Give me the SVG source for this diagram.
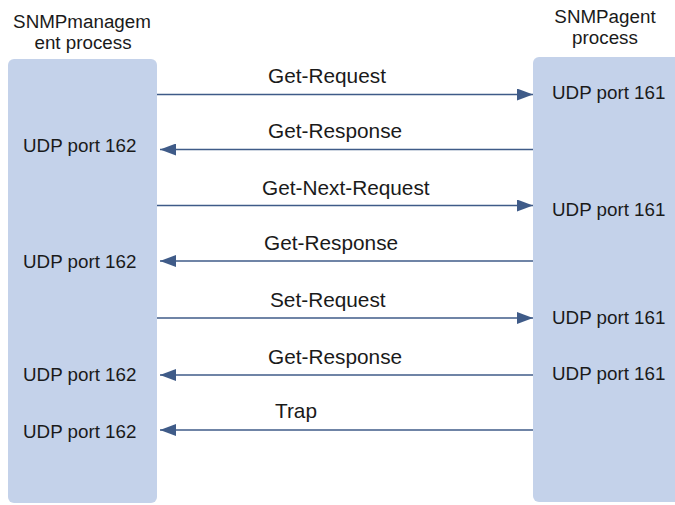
<svg xmlns="http://www.w3.org/2000/svg" width="675" height="505" viewBox="0 0 675 505">
<style>
.box{fill:#c4d2ea;}
.t{font-family:"Liberation Sans",Arial,sans-serif;font-size:18.8px;fill:#1a1a1a;}
.lb{font-size:20.8px;}
.c{text-anchor:middle;}
.ln{stroke:#3f5b88;stroke-width:1.6;fill:none;}
</style>
<defs>
<marker id="ah" viewBox="0 0 16 12" refX="16" refY="6" markerWidth="16" markerHeight="12" markerUnits="userSpaceOnUse" orient="auto">
<path d="M0,0 L16,6 L0,12 z" fill="#3f5b88"/>
</marker>
</defs>
<g id="manager">
<rect class="box" x="8" y="59" width="149" height="444" rx="6"/>
<text class="t c" x="82" y="28">SNMPmanagem</text>
<text class="t c" x="83" y="49">ent process</text>
<text class="t" x="23" y="152">UDP port 162</text>
<text class="t" x="23" y="268">UDP port 162</text>
<text class="t" x="23" y="381">UDP port 162</text>
<text class="t" x="23" y="438">UDP port 162</text>
</g>
<g id="agent">
<rect class="box" x="533" y="57" width="150" height="445" rx="6"/>
<text class="t c" x="605" y="23">SNMPagent</text>
<text class="t c" x="605" y="44">process</text>
<text class="t" x="552" y="99">UDP port 161</text>
<text class="t" x="552" y="216">UDP port 161</text>
<text class="t" x="552" y="324">UDP port 161</text>
<text class="t" x="552" y="380">UDP port 161</text>
</g>
<g id="connectors">
<line class="ln" x1="157" y1="94.5" x2="533" y2="94.5" marker-end="url(#ah)"/>
<line class="ln" x1="533" y1="149.5" x2="160" y2="149.5" marker-end="url(#ah)"/>
<line class="ln" x1="157" y1="205.5" x2="533" y2="205.5" marker-end="url(#ah)"/>
<line class="ln" x1="533" y1="261" x2="160" y2="261" marker-end="url(#ah)"/>
<line class="ln" x1="157" y1="318" x2="533" y2="318" marker-end="url(#ah)"/>
<line class="ln" x1="533" y1="375" x2="160" y2="375" marker-end="url(#ah)"/>
<line class="ln" x1="533" y1="430" x2="160" y2="430" marker-end="url(#ah)"/>
<text class="t lb" x="268" y="83">Get-Request</text>
<text class="t lb" x="268" y="138">Get-Response</text>
<text class="t lb" x="262" y="195">Get-Next-Request</text>
<text class="t lb" x="264" y="250">Get-Response</text>
<text class="t lb" x="270" y="307">Set-Request</text>
<text class="t lb" x="268" y="364">Get-Response</text>
<text class="t lb" x="275" y="418">Trap</text>
</g>
</svg>
